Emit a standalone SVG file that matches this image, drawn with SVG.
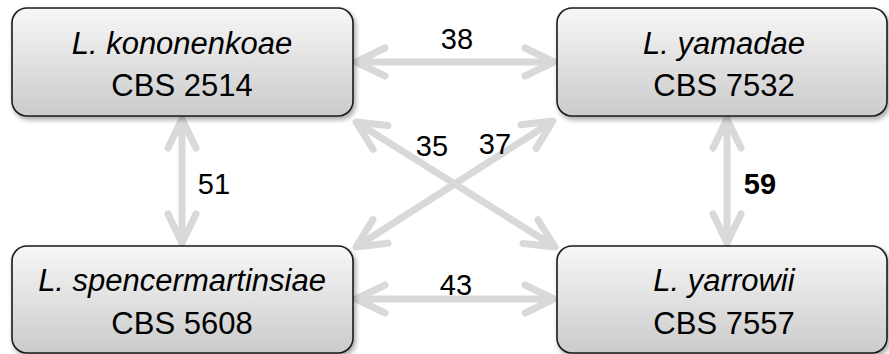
<svg xmlns="http://www.w3.org/2000/svg" width="889" height="354" viewBox="0 0 889 354">
  <style>
    .box { fill: url(#boxgrad); stroke: #1a1a1a; stroke-width: 1.6; filter: url(#shadow); }
    .name { font-family: "Liberation Sans", Arial, sans-serif; font-size: 31px; font-style: italic; fill: #000; text-anchor: middle; }
    .code { font-family: "Liberation Sans", Arial, sans-serif; font-size: 31px; fill: #000; text-anchor: middle; }
    .lbl { font-family: "Liberation Sans", Arial, sans-serif; font-size: 29px; fill: #000; text-anchor: middle; }
    .bold { font-weight: bold; }
    .conn { stroke: #d9d9d9; stroke-width: 7; fill: none; marker-start: url(#head); marker-end: url(#head); }
  </style>
  <defs>
    <linearGradient id="boxgrad" x1="0" y1="0" x2="0" y2="1">
      <stop offset="0" stop-color="#f7f7f7"/>
      <stop offset="1" stop-color="#cbcbcb"/>
    </linearGradient>
    <filter id="shadow" x="-10%" y="-10%" width="125%" height="130%">
      <feDropShadow dx="2" dy="3" stdDeviation="2.5" flood-color="#000" flood-opacity="0.35"/>
    </filter>
    <marker id="head" markerUnits="userSpaceOnUse" viewBox="-40 -24 48 48" markerWidth="48" markerHeight="48" refX="0" refY="0" orient="auto-start-reverse" overflow="visible">
      <path d="M-29,-14 L0,0 L-29,14" fill="none" stroke="#d9d9d9" stroke-width="7" stroke-linecap="round" stroke-linejoin="round"/>
    </marker>
  </defs>

  <g id="connectors">
    <line class="conn" x1="356" y1="62" x2="554" y2="62"/>
    <line class="conn" x1="356" y1="299" x2="554" y2="299"/>
    <line class="conn" x1="182" y1="119" x2="182" y2="243"/>
    <line class="conn" x1="727" y1="119" x2="727" y2="243"/>
    <line class="conn" x1="356" y1="122" x2="555" y2="247"/>
    <line class="conn" x1="553" y1="121" x2="356" y2="247"/>
  </g>

  <g id="labels">
    <text class="lbl" x="457" y="49">38</text>
    <text class="lbl" x="456" y="295">43</text>
    <text class="lbl" x="432" y="156">35</text>
    <text class="lbl" x="495" y="154">37</text>
    <text class="lbl" x="214" y="194">51</text>
    <text class="lbl bold" x="760" y="194">59</text>
  </g>

  <g id="node-kononenkoae">
    <rect class="box" x="12" y="8" width="341" height="108" rx="15"/>
    <text class="name" x="182" y="54">L. kononenkoae</text>
    <text class="code" x="182" y="96">CBS 2514</text>
  </g>

  <g id="node-yamadae">
    <rect class="box" x="557" y="8" width="330" height="108" rx="15"/>
    <text class="name" x="724" y="54">L. yamadae</text>
    <text class="code" x="724" y="96">CBS 7532</text>
  </g>

  <g id="node-spencermartinsiae">
    <rect class="box" x="12" y="246" width="341" height="107" rx="15"/>
    <text class="name" x="182" y="291">L. spencermartinsiae</text>
    <text class="code" x="182" y="334">CBS 5608</text>
  </g>

  <g id="node-yarrowii">
    <rect class="box" x="557" y="246" width="330" height="107" rx="15"/>
    <text class="name" x="724" y="291">L. yarrowii</text>
    <text class="code" x="724" y="334">CBS 7557</text>
  </g>
</svg>
